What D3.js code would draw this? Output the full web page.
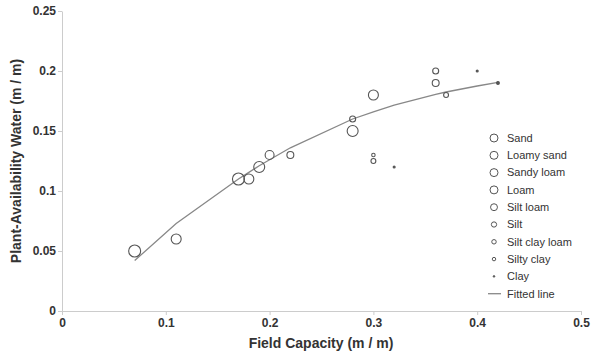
<!DOCTYPE html>
<html><head><meta charset="utf-8">
<script src="https://cdn.jsdelivr.net/npm/d3@7"></script>
<style>body{margin:0;background:#fff}svg{font-family:"Liberation Sans",Arial,sans-serif}</style>
</head><body><svg id="c" width="600" height="363"></svg>
<script>
const seriesNames = ["Sand","Loamy sand","Sandy loam","Loam","Silt loam","Silt","Silt clay loam","Silty clay","Clay"];
const legendWeights = [16,16,16,16,12,7,5,3,1];
// points: series, fieldCapacity, availableWater, weight
const pointSeries = ["Sand","Loamy sand","Sandy loam","Sandy loam","Loam","Loam","Silt loam","Silt loam","Silt","Silt","Silt clay loam","Silt clay loam","Clay","Silty clay","Silty clay","Silt clay loam","Clay","Clay"];
const pointFC =     [0.07,0.11,0.17,0.18,0.19,0.20,0.22,0.28,0.28,0.30,0.30,0.30,0.32,0.36,0.36,0.37,0.40,0.42];
const pointPAW =    [0.05,0.06,0.11,0.11,0.12,0.13,0.13,0.15,0.16,0.18,0.13,0.125,0.12,0.20,0.19,0.18,0.20,0.19];
const pointWeight = [36,25,36,25,30,20,12,30,9,25,3,6,1,9,12,6,1,2];
const fitX = [0.07,0.11,0.17,0.18,0.19,0.20,0.22,0.28,0.30,0.32,0.36,0.37,0.40,0.42];
const fitY = [0.042,0.073,0.110,0.1155,0.121,0.126,0.136,0.160,0.166,0.1715,0.1805,0.1825,0.1875,0.1905];
const xTicks = [0,0.1,0.2,0.3,0.4,0.5];
const xTickLabels = ["0","0.1","0.2","0.3","0.4","0.5"];
const yTicks = [0,0.05,0.1,0.15,0.2,0.25];
const yTickLabels = ["0","0.05","0.1","0.15","0.2","0.25"];

const svg = d3.select("#c");
const x = d3.scaleLinear().domain([0,0.5]).range([62,581]);
const y = d3.scaleLinear().domain([0,0.25]).range([311,11]);
const r = d3.scaleSqrt().domain([0,36]).range([0,6]);
const rLegend = d3.scaleSqrt().domain([0,16]).range([0,4]);

const xAxis = svg.append("g").attr("transform","translate(0,311)")
  .call(d3.axisBottom(x).tickValues(xTicks).tickFormat((d,i)=>xTickLabels[i]).tickSize(4).tickSizeOuter(0));
const yAxis = svg.append("g").attr("transform","translate(62,0)")
  .call(d3.axisLeft(y).tickValues(yTicks).tickFormat((d,i)=>yTickLabels[i]).tickSize(4).tickSizeOuter(0));
[xAxis,yAxis].forEach(a=>{
  a.select(".domain").attr("stroke","#ccc");
  a.selectAll(".tick line").attr("stroke","#ccc");
  a.selectAll(".tick text").attr("fill","#333").attr("font-size",12).attr("font-weight","bold").attr("font-family","'Liberation Sans', Arial, sans-serif");
});
xAxis.selectAll(".tick text").attr("dy","0.95em").attr("y",5);
yAxis.selectAll(".tick text").attr("x",-6);

svg.append("text").attr("x",321).attr("y",348).attr("text-anchor","middle")
  .attr("font-size",14).attr("font-weight","bold").attr("fill","#333").text("Field Capacity (m / m)");
svg.append("text").attr("transform","translate(21,161) rotate(-90)").attr("text-anchor","middle")
  .attr("font-size",14).attr("font-weight","bold").attr("fill","#333").text("Plant-Availability Water (m / m)");

const line = d3.line().x(d=>x(d[0])).y(d=>y(d[1]));
svg.append("path").datum(fitX.map((v,i)=>[v,fitY[i]])).attr("d",line)
  .attr("fill","none").attr("stroke","#888").attr("stroke-width",1.3);

svg.append("g").selectAll("circle").data(pointFC.map((v,i)=>({x:v,y:pointPAW[i],w:pointWeight[i],s:pointSeries[i]})))
  .join("circle").attr("cx",d=>x(d.x)).attr("cy",d=>y(d.y)).attr("r",d=>r(d.w))
  .attr("fill",d=>d.w<=2?"#555":"none").attr("stroke","#555").attr("stroke-width",1.1);

const lg = svg.append("g");
const rowY = i=>138+i*17.3;
seriesNames.forEach((n,i)=>{
  const w = legendWeights[i];
  lg.append("circle").attr("cx",494).attr("cy",rowY(i)).attr("r",w<=1?0.8:rLegend(w))
    .attr("fill",w<=1?"#555":"none").attr("stroke","#555").attr("stroke-width",1);
  lg.append("text").attr("x",507).attr("y",rowY(i)).attr("dy","0.35em").attr("font-size",11).attr("fill","#333").text(n);
});
lg.append("line").attr("x1",488).attr("x2",501).attr("y1",rowY(9)).attr("y2",rowY(9)).attr("stroke","#888").attr("stroke-width",1.3);
lg.append("text").attr("x",507).attr("y",rowY(9)).attr("dy","0.35em").attr("font-size",11).attr("fill","#333").text("Fitted line");
</script></body></html>
